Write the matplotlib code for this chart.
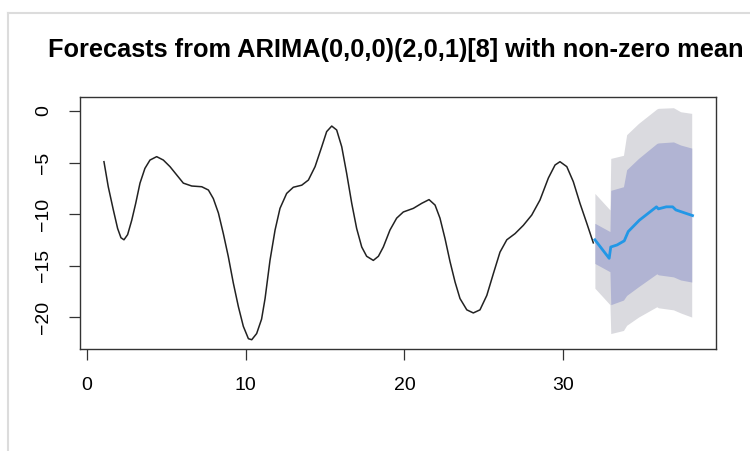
import matplotlib
matplotlib.use("Agg")
import matplotlib.pyplot as plt
from matplotlib.lines import Line2D

obs_x = [1.07, 1.34, 1.66, 1.93, 2.14, 2.33, 2.56, 2.82, 3.07, 3.34, 3.65, 3.97, 4.39,
         4.81, 5.23, 5.65, 6.07, 6.6, 7.23, 7.65, 7.96, 8.28, 8.59, 8.9, 9.22, 9.54,
         9.85, 10.17, 10.38, 10.69, 11.0, 11.22, 11.53, 11.85, 12.16, 12.58, 13.0,
         13.53, 13.95, 14.37, 14.79, 15.1, 15.42, 15.73, 16.05, 16.36, 16.68, 16.99,
         17.31, 17.62, 18.04, 18.36, 18.67, 19.09, 19.51, 19.93, 20.56, 21.09, 21.55,
         21.93, 22.24, 22.56, 22.87, 23.19, 23.5, 23.93, 24.34, 24.76, 25.19, 25.6,
         26.02, 26.45, 26.97, 27.49, 28.02, 28.54, 29.07, 29.49, 29.8, 30.23, 30.64,
         31.06, 31.49, 31.9]
obs_y = [-4.92, -7.35, -9.6, -11.4, -12.3, -12.5, -12.0, -10.6, -8.96, -7.0, -5.57,
         -4.76, -4.43, -4.76, -5.4, -6.2, -7.0, -7.28, -7.35, -7.67, -8.5, -9.9, -11.9,
         -14.1, -16.7, -19.0, -20.9, -22.1, -22.2, -21.6, -20.2, -18.2, -14.5, -11.55,
         -9.45, -8.0, -7.4, -7.2, -6.7, -5.4, -3.47, -2.0, -1.46, -1.84, -3.47, -6.05,
         -8.96, -11.4, -13.2, -14.1, -14.5, -14.1, -13.2, -11.55, -10.4, -9.8, -9.45,
         -8.96, -8.6, -9.13, -10.4, -12.4, -14.6, -16.6, -18.2, -19.3, -19.6, -19.3,
         -17.9, -15.8, -13.7, -12.5, -11.9, -11.1, -10.1, -8.64, -6.5, -5.24, -4.92,
         -5.4, -6.86, -8.96, -10.9, -12.8]

# point forecast
fc_x = [32.0, 32.9, 33.0, 33.4, 33.85, 34.1, 34.8, 35.88, 36.0, 36.5, 36.9, 37.1, 38.15]
fc_y = [-12.5, -14.3, -13.2, -13.0, -12.6, -11.7, -10.6, -9.3, -9.5, -9.3, -9.3, -9.6, -10.15]

# prediction intervals
band_x = [32.0, 32.95, 33.0, 33.8, 34.0, 34.75, 35.9, 36.0, 36.95, 37.4, 38.1]
hi95 = [-8.0, -9.6, -4.6, -4.3, -2.3, -1.2, 0.2, 0.26, 0.32, -0.07, -0.23]
hi80 = [-10.9, -11.7, -7.7, -7.35, -5.7, -4.6, -3.15, -3.1, -3.0, -3.3, -3.6]
lo80 = [-14.8, -15.6, -18.8, -18.35, -17.9, -17.05, -15.8, -15.9, -16.1, -16.4, -16.6]
lo95 = [-17.2, -18.8, -21.6, -21.3, -20.8, -20.0, -19.0, -19.1, -19.3, -19.6, -20.0]

plt.rcParams['font.family'] = ['Liberation Sans', 'DejaVu Sans']

W, H = 750, 451
fig = plt.figure(figsize=(7.5, 4.51), dpi=100)
ax = fig.add_axes([80 / W, 1 - 349 / H, (716 - 80) / W, (349 - 97) / H])

ax.fill_between(band_x, lo95, hi95, color='#dadadf', lw=0)
ax.fill_between(band_x, lo80, hi80, color='#b1b4d3', lw=0)
ax.plot(obs_x, obs_y, color='#222222', lw=1.1, solid_joinstyle='round')
ax.plot(fc_x, fc_y, color='#2297e6', lw=2.0)

ax.set_xlim(-0.44, 39.63)
ax.set_ylim(-23.1, 1.36)
ax.set_xticks([0, 10, 20, 30])
ax.set_yticks([0, -5, -10, -15, -20])
ax.tick_params(length=8, width=0.9, labelsize=14, pad=12, color='#333333')
for lab in ax.get_yticklabels():
    lab.set_rotation(90)
    lab.set_va('center')
for sp in ax.spines.values():
    sp.set_linewidth(1.0)
    sp.set_color('#333333')

fig.text(396 / W, 1 - 57 / H, 'Forecasts from ARIMA(0,0,0)(2,0,1)[8] with non-zero mean',
         ha='center', va='baseline', fontsize=18.3, fontweight='bold')

# screenshot frame
fig.add_artist(Line2D([8 / W, 1], [1 - 13 / H, 1 - 13 / H], color='#dcdcdc', lw=1.5))
fig.add_artist(Line2D([8 / W, 8 / W], [0, 1 - 13 / H], color='#dcdcdc', lw=1.5))

fig.savefig('out.png', dpi=100)
